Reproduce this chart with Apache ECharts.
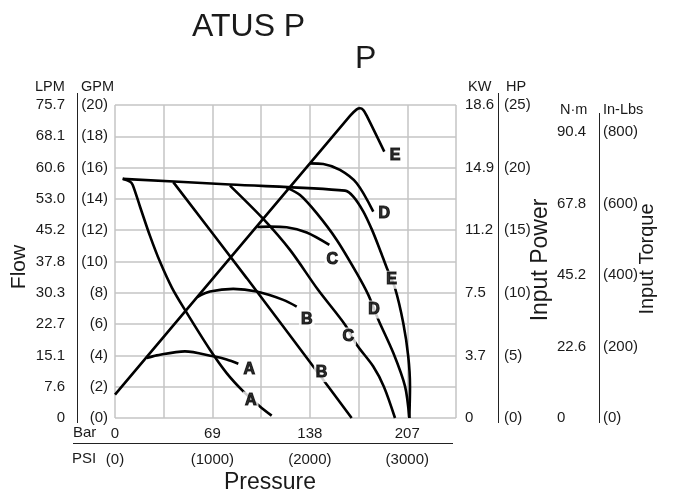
<!DOCTYPE html>
<html><head><meta charset="utf-8">
<script src="https://cdn.jsdelivr.net/npm/echarts/dist/echarts.min.js"></script>
<style>html,body{margin:0;padding:0;background:#fff}#c{width:678px;height:495px}</style>
</head><body><div id="c"></div>
<script>
// ---- tick labels ----
const BAR_LABELS = ['0', '69', '138', '207'];
const PSI_LABELS = ['(0)', '(1000)', '(2000)', '(3000)'];
const LPM_LABELS = ['0', '7.6', '15.1', '22.7', '30.3', '37.8', '45.2', '53.0', '60.6', '68.1', '75.7'];
const GPM_LABELS = ['(0)', '(2)', '(4)', '(6)', '(8)', '(10)', '(12)', '(14)', '(16)', '(18)', '(20)'];
const KW_LABELS = ['0', '3.7', '7.5', '11.2', '14.9', '18.6'];
const HP_LABELS = ['(0)', '(5)', '(10)', '(15)', '(20)', '(25)'];
const NM_LABELS = ['0', '22.6', '45.2', '67.8', '90.4'];
const INLBS_LABELS = ['(0)', '(200)', '(400)', '(600)', '(800)'];

// ---- curves: [pressure PSI, flow GPM] ----
const FLOW_A = [[79,15.28],[154,15.10],[182,14.89],[257,13.50],[359,11.64],[462,9.98],[585,8.32],[718,6.91],[975,4.36],[1146,2.87],[1317,1.70],[1488,0.74],[1608,0.15]];
const FLOW_B = [[598,15.07],[1352,8.94],[2035,3.29],[2429,0]];
const FLOW_C = [[1180,14.85],[1522,12.72],[1796,10.74],[2084,8.19],[2361,5.96],[2481,4.68],[2651,3.29],[2760,2.0],[2874,0]];
const FLOW_D = [[1760,14.72],[1899,14.25],[2070,13.09],[2276,11.38],[2481,9.26],[2600,7.87],[2703,6.28],[2857,4.15],[2977,2.02],[3021,0]];
const FLOW_E = [[79,15.28],[1180,14.92],[2361,14.53],[2446,14.15],[2549,13.19],[2638,12.02],[2720,10.74],[2789,9.60],[2874,8.30],[2959,6.06],[3010,3.93],[3028,2.02],[3021,0]];

const POWER_A = [[325,3.83],[428,4.0],[718,4.26],[1009,3.94],[1146,3.74],[1266,3.47]];
const POWER_B = [[845,7.73],[975,8.08],[1214,8.25],[1454,8.08],[1727,7.55],[1865,7.12]];
const POWER_C = [[1460,12.2],[1591,12.23],[1762,12.19],[1968,11.85],[2200,11.06]];
const POWER_D = [[2001,16.27],[2138,16.23],[2309,15.85],[2481,15.0],[2651,13.19]];
const POWER_E = [[0,1.49],[2412,19.3],[2481,19.72],[2515,19.79],[2549,19.68],[2583,19.32],[2764,17.02]];

const CURVE_NAMES = ['A', 'B', 'C', 'D', 'E'];
const POWER_LABEL_AT = [[1379,3.08],[1968,6.28],[2230,10.15],[2764,13.09],[2874,16.74]];
const FLOW_LABEL_AT = [[1393,1.12],[2121,2.87],[2395,5.21],[2658,6.93],[2840,8.83]];

// ---- chart ----
const FONT = '"Liberation Sans", Arial, Helvetica, sans-serif';
const TXT = '#1a1a1a';
const chart = echarts.init(document.getElementById('c'), null, {renderer: 'canvas'});

function yAx(opts) {
  return Object.assign({
    type: 'value', min: 0, max: 20, interval: 2,
    axisLine: {show: false}, axisTick: {show: false}, splitLine: {show: false},
  }, opts);
}
function lbl(margin, fmt, extra) {
  return Object.assign({color: TXT, fontSize: 15, fontFamily: FONT, margin: margin, formatter: fmt}, extra || {});
}
function curve(data) {
  return {type: 'line', data: data, showSymbol: false, smooth: 0.3, silent: true, z: 3,
    lineStyle: {color: '#000', width: 2.6}};
}
function labels(pos) {
  return {type: 'scatter', z: 6, silent: true, symbolSize: 1,
    itemStyle: {color: 'rgba(0,0,0,0)'},
    data: pos.map((p, i) => ({value: p, name: CURVE_NAMES[i]})),
    label: {show: true, position: 'inside', formatter: '{b}', color: '#000',
      fontSize: 16, fontWeight: 'bold', fontFamily: FONT,
      backgroundColor: '#fff', padding: [1, 2],
      textBorderColor: '#000', textBorderWidth: 1.1}};
}
function txt(x, y, s, size, align, rot) {
  return {type: 'text', x: x, y: y, rotation: rot || 0, silent: true,
    style: {text: s, fill: TXT, font: size + 'px ' + FONT, align: align || 'left', verticalAlign: 'middle'}};
}
function vline(x, y1, y2) {
  return {type: 'line', silent: true, shape: {x1: x, y1: y1, x2: x, y2: y2}, style: {stroke: '#222', lineWidth: 1}};
}

chart.setOption({
  animation: false,
  backgroundColor: '#fff',
  grid: {left: 115, top: 105, right: 222, bottom: 77},
  xAxis: [
    {type: 'value', min: 0, max: 3500, interval: 500, position: 'bottom',
      axisLine: {show: false}, axisTick: {show: false},
      splitLine: {show: true, lineStyle: {color: '#c4c4c4', width: 1.5}},
      axisLabel: lbl(8, v => (v % 1000 === 0 ? BAR_LABELS[v / 1000] : ''))},
    {type: 'value', min: 0, max: 3500, interval: 500, position: 'bottom', offset: 26,
      axisLine: {show: false}, axisTick: {show: false}, splitLine: {show: false},
      axisLabel: lbl(8, v => (v % 1000 === 0 ? PSI_LABELS[v / 1000] : ''))}
  ],
  yAxis: [
    yAx({position: 'left', splitLine: {show: true, lineStyle: {color: '#c4c4c4', width: 1.5}},
      axisLabel: lbl(7, v => GPM_LABELS[Math.round(v / 2)])}),
    yAx({position: 'left', axisLabel: lbl(50, v => LPM_LABELS[Math.round(v / 2)])}),
    yAx({position: 'right', interval: 4, axisLabel: lbl(9, v => KW_LABELS[Math.round(v / 4)])}),
    yAx({position: 'right', interval: 4, axisLabel: lbl(48, v => HP_LABELS[Math.round(v / 4)])}),
    yAx({position: 'right', max: 875, interval: 200,
      axisLabel: lbl(101, v => (v % 200 === 0 ? NM_LABELS[v / 200] : ''), {showMaxLabel: false})}),
    yAx({position: 'right', max: 875, interval: 200,
      axisLabel: lbl(147, v => (v % 200 === 0 ? INLBS_LABELS[v / 200] : ''), {showMaxLabel: false})})
  ],
  series: [
    curve(FLOW_A), curve(FLOW_B), curve(FLOW_C), curve(FLOW_D), curve(FLOW_E),
    curve(POWER_A), curve(POWER_B), curve(POWER_C), curve(POWER_D), curve(POWER_E),
    labels(POWER_LABEL_AT), labels(FLOW_LABEL_AT)
  ],
  graphic: [
    txt(192, 27, 'ATUS P', 32),
    txt(355, 59, 'P', 32),
    txt(35, 87, 'LPM', 14.5), txt(81, 87, 'GPM', 14.5),
    txt(468, 87, 'KW', 14.5), txt(506, 87, 'HP', 14.5),
    txt(560, 110, 'N·m', 14.5), txt(603, 110, 'In-Lbs', 14.5),
    txt(73, 433, 'Bar', 15), txt(72, 459, 'PSI', 15),
    txt(270, 483, 'Pressure', 23, 'center'),
    txt(19, 267, 'Flow', 21, 'center', Math.PI / 2),
    txt(541, 260, 'Input Power', 23, 'center', Math.PI / 2),
    txt(647, 259, 'Input Torque', 20, 'center', Math.PI / 2),
    vline(77.5, 93, 423), vline(498.5, 93, 423), vline(599.5, 113, 423),
    {type: 'line', silent: true, shape: {x1: 73, y1: 443.5, x2: 453, y2: 443.5}, style: {stroke: '#222', lineWidth: 1}}
  ]
});
</script></body></html>
